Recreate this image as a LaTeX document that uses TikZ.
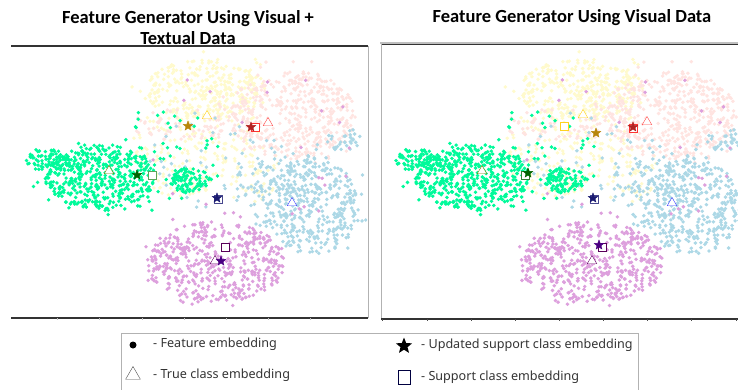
\documentclass[tikz,border=0pt]{standalone}
\usepackage{fontspec}
\setmainfont{Noto Sans}
\newfontfamily\titlefont{Carlito}
\usepackage[HTML]{xcolor}
\usepackage{tikz}
\usetikzlibrary{shapes.geometric}

% point colours of the five classes
\definecolor{cgreen}{HTML}{00FA9A}
\definecolor{cyellow}{HTML}{FFFACD}
\definecolor{cpink}{HTML}{FFE4E1}
\definecolor{cblue}{HTML}{ADD8E6}
\definecolor{cplum}{HTML}{DDA0DD}
% marker colours
\definecolor{mgold}{HTML}{B8860B}
\definecolor{lgold}{HTML}{FFD21F}
\definecolor{mred}{HTML}{B22222}
\definecolor{mgreen}{HTML}{006400}
\definecolor{mnavy}{HTML}{191970}
\definecolor{mindigo}{HTML}{4B0082}

% n points, centre (x,y), radii (rx,ry), colour
\newcommand{\blob}[6]{%
  \foreach \i in {1,...,#1}{%
    \pgfmathsetmacro\ang{360*rnd}%
    \pgfmathsetmacro\rr{sqrt(rnd)}%
    \fill[#6] ({#2+#4*\rr*cos(\ang)},{#3+#5*\rr*sin(\ang)}) circle (1.9);
  }}
\newcommand{\tsnecloud}{%
  \pgfmathsetseed{4242}%
  % yellow class
  \blob{300}{205}{90}{62}{30}{cyellow}
  \blob{40}{205}{90}{80}{40}{cyellow}
  \blob{140}{180}{150}{48}{48}{cyellow}
  \blob{70}{250}{165}{30}{40}{cyellow}
  % pink class
  \blob{420}{292}{115}{64}{44}{cpink}
  \blob{60}{292}{115}{80}{56}{cpink}
  \blob{60}{180}{125}{48}{16}{cpink}
  % blue class
  \blob{350}{312}{205}{46}{50}{cblue}
  \blob{50}{312}{205}{60}{62}{cblue}
  \blob{90}{268}{182}{34}{46}{cblue}
  \blob{30}{345}{140}{18}{12}{cblue}
  \blob{40}{210}{160}{60}{50}{cblue}
  % plum class
  \blob{460}{215}{262}{70}{40}{cplum}
  \blob{50}{215}{262}{84}{50}{cplum}
  \blob{25}{250}{150}{110}{90}{cplum}
  % green class
  \blob{420}{100}{177}{56}{32}{cgreen}
  \blob{50}{100}{177}{70}{42}{cgreen}
  \blob{70}{48}{160}{25}{12}{cgreen}
  \blob{90}{188}{180}{22}{12}{cgreen}
  \blob{60}{165}{160}{55}{55}{cgreen}
}

\tikzset{
  sstar/.style={star, star points=5, star point ratio=2.3, inner sep=0pt, minimum size=10pt, draw=#1, fill=#1},
  tri/.style={regular polygon, regular polygon sides=3, inner sep=0pt, minimum size=11pt, draw=#1, thin, fill=white},
  sq/.style={rectangle, inner sep=0pt, minimum size=7.5pt, draw=#1, thin, fill=white},
  ttl/.style={font=\titlefont\bfseries\fontsize{18.5}{21}\selectfont, align=center},
  lgd/.style={font=\fontsize{12.6}{15}\selectfont, text=black!80, anchor=west, inner sep=0pt},
}

\begin{document}
\begin{tikzpicture}[x=1pt, y=-1pt]
\useasboundingbox (0,0) rectangle (738,390);

% Titles
\node[ttl] (ttlL) at (188,28) {Feature Generator Using Visual +\\Textual Data};
\node[ttl] (ttlR) at (572,17.5) {Feature Generator Using Visual Data};

% Left panel: visual + textual
\begin{scope}
  \clip (11,47) rectangle (367,317);
  \tsnecloud
\end{scope}
\draw[line width=1.2pt, black!80] (11,46) -- (368,46);
\draw[gray!60] (368,46) -- (368,318);
\draw[line width=1.2pt, black!80] (11,318) -- (368,318);
\foreach \t in {57,99,142,184,226,268,310}
  \draw[gray!50] (\t,318) -- (\t,320);

\node[tri=lgold] (LyT) at (207,116) {};
\node[sstar=mgold] (LyS) at (188,126) {};
\node[sq=red!80] (LrQ) at (255,127) {};
\node[sstar=mred] (LrS) at (251,127) {};
\node[tri=red!70] (LrT) at (268,123) {};
\node[tri=olive!70!gray] (LgT) at (109,171) {};
\node[sstar=mgreen] (LgS) at (137,175) {};
\node[sq=gray!70!green] (LgQ) at (152,175) {};
\node[sq=mnavy!80] (LnQ) at (218,199) {};
\node[sstar=mnavy] (LnS) at (217,198) {};
\node[tri=blue!75] (LbT) at (292,203) {};
\node[sq=violet!70!black] (LpQ) at (225,247) {};
\node[tri=violet!80!black] (LpT) at (215,261) {};
\node[sstar=mindigo] (LpS) at (221,261) {};

% Right panel: visual only
\begin{scope}
  \clip (381,46) rectangle (738,318);
  \begin{scope}[shift={(368.6,0)}, xscale=1.035]
    \tsnecloud
  \end{scope}
\end{scope}
\draw[line width=1.5pt, gray!50] (380,43) -- (738,43);
\draw[line width=0.8pt, black!80] (381,44.5) -- (738,44.5);
\draw[gray!60] (381,44) -- (381,319);
\draw[line width=1.2pt, black!80] (381,319) -- (738,319);
\foreach \t in {382,427,471,515,559,603,647,691,736}
  \draw[black!70] (\t,319) -- (\t,321);

\node[sq=lgold] (RyQ) at (564,126) {};
\node[tri=lgold] (RyT) at (583,115) {};
\node[sstar=mgold] (RyS) at (596,133) {};
\node[sq=red!80] (RrQ) at (633,128) {};
\node[sstar=mred] (RrS) at (633,127) {};
\node[tri=red!70] (RrT) at (647,122) {};
\node[tri=olive!70!gray] (RgT) at (482,171) {};
\node[sq=mgreen!80] (RgQ) at (525,175) {};
\node[sstar=mgreen] (RgS) at (528,173) {};
\node[sq=mnavy!80] (RnQ) at (594,199) {};
\node[sstar=mnavy] (RnS) at (593,198) {};
\node[tri=blue!75] (RbT) at (672,203) {};
\node[sq=violet!70!black] (RpQ) at (602,247) {};
\node[sstar=mindigo] (RpS) at (599,245) {};
\node[tri=violet!80!black] (RpT) at (592,261) {};

% Legend
\draw[gray!60] (121,392) -- (121,333) -- (638,333) -- (638,392);
\fill[black] (133,345) circle (3.5) coordinate (kDot);
\node[lgd] (kDotTxt) at (153,344.5) {- Feature embedding};
\node[regular polygon, regular polygon sides=3, inner sep=0pt, minimum size=17pt, draw=black!70] (kTri) at (133,375) {};
\node[lgd] (kTriTxt) at (153,375.5) {- True class embedding};
\node[star, star points=5, star point ratio=2.3, inner sep=0pt, minimum size=17pt, fill=black] (kStar) at (404,346) {};
\node[lgd] (kStarTxt) at (421,345.5) {- Updated support class embedding};
\node[rectangle, inner sep=0pt, minimum width=12pt, minimum height=14pt, draw=black!75!blue] (kSq) at (404,377) {};
\node[lgd] (kSqTxt) at (421,377.5) {- Support class embedding};
\end{tikzpicture}
\end{document}
